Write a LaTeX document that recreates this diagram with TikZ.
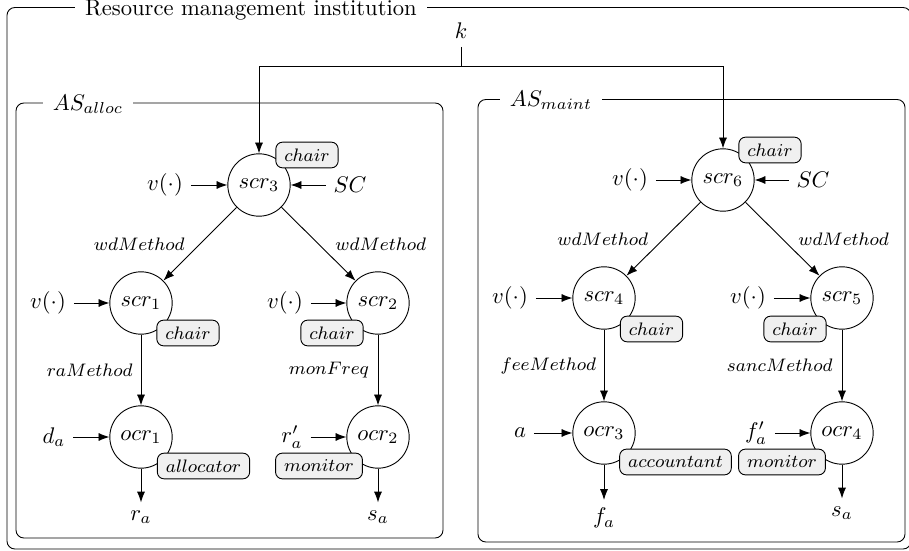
\documentclass[tikz,border=0pt]{standalone}
\usepackage{amsmath}
\usetikzlibrary{arrows.meta, positioning}

\begin{document}
\begin{tikzpicture}[x=0.01555cm,y=-0.01555cm,
        cr/.style={draw,circle,minimum size=0.97cm,inner sep=0pt},
        role/.style={draw,rounded corners=3pt,fill=gray!12,font=\fontsize{8.5}{10}\selectfont,inner xsep=3.75pt,inner ysep=0pt,minimum height=0.4cm},
        lbl/.style={font=\fontsize{8.5}{10}\selectfont,inner sep=0pt},
        arr/.style={-Latex},
        box/.style={draw,rounded corners=3.5pt},
        ttl/.style={fill=white,inner xsep=4.5pt,inner ysep=1pt}]
            \useasboundingbox (0,0) rectangle (909,551);
            \draw[box] (7,7.5) rectangle (911,549);
            \node[ttl] (rmi) at (251,10.5) {Resource management institution};
            \draw[box] (16,103) rectangle (443,538);
            \node[ttl] (asa) at (88,104) {$AS_{alloc}$};
            \draw[box] (478,99.5) rectangle (905,542);
            \node[ttl] (asm) at (551,100.5) {$AS_{maint}$};

            \node (k) at (461,31) {$k$};
            \coordinate (kj) at (461,66);

            \node[cr] (scr3) at (259,185) {$scr_3$};
            \node[cr] (scr1) at (141,303) {$scr_1$};
            \node[cr] (scr2) at (378,303) {$scr_2$};
            \node[cr] (ocr1) at (141,437) {$ocr_1$};
            \node[cr] (ocr2) at (378,437) {$ocr_2$};
            \node[cr] (scr6) at (723,180) {$scr_6$};
            \node[cr] (scr4) at (604,298) {$scr_4$};
            \node[cr] (scr5) at (842,298) {$scr_5$};
            \node[cr] (ocr3) at (604,433) {$ocr_3$};
            \node[cr] (ocr4) at (842,433) {$ocr_4$};

            \node (v3) at (165,185) {$v(\cdot)$};
            \node (sc3) at (350,185) {$SC$};
            \node (v1) at (48,303) {$v(\cdot)$};
            \node (v2) at (285,303) {$v(\cdot)$};
            \node (da) at (54,437) {$d_a$};
            \node (rpa) at (292,437) {$r'_a$};
            \node (ra) at (141,517) {$r_a$};
            \node (sa) at (378,517) {$s_a$};
            \node (v6) at (630,180) {$v(\cdot)$};
            \node (sc6) at (813,180) {$SC$};
            \node (v4) at (510,298) {$v(\cdot)$};
            \node (v5) at (748,298) {$v(\cdot)$};
            \node (a) at (520,433) {$a$};
            \node (fpa) at (756,433) {$f'_a$};
            \node (fa) at (604,518) {$f_a$};
            \node (sb) at (842,513) {$s_a$};

            \draw (k) -- (kj);
            \draw[arr] (kj) -| (scr3);
            \draw[arr] (kj) -| (scr6);

            \draw[arr] (v3) -- (scr3);
            \draw[arr] (sc3) -- (scr3);
            \draw[arr] (v1) -- (scr1);
            \draw[arr] (v2) -- (scr2);
            \draw[arr] (da) -- (ocr1);
            \draw[arr] (rpa) -- (ocr2);
            \draw[arr] (ocr1) -- (ra);
            \draw[arr] (ocr2) -- (sa);
            \draw[arr] (v6) -- (scr6);
            \draw[arr] (sc6) -- (scr6);
            \draw[arr] (v4) -- (scr4);
            \draw[arr] (v5) -- (scr5);
            \draw[arr] (a) -- (ocr3);
            \draw[arr] (fpa) -- (ocr4);
            \draw[arr] (ocr3) -- (fa);
            \draw[arr] (ocr4) -- (sb);

            \draw[arr] (scr3) -- node[lbl,left=6.6pt] {$wdMethod$} (scr1);
            \draw[arr] (scr3) -- node[lbl,right=7.3pt] {$wdMethod$} (scr2);
            \draw[arr] (scr1) -- node[lbl,left=3.5pt] {$raMethod$} (ocr1);
            \draw[arr] (scr2) -- node[lbl,left=3.8pt] {$monFreq$} (ocr2);
            \draw[arr] (scr6) -- node[lbl,left=6.6pt] {$wdMethod$} (scr4);
            \draw[arr] (scr6) -- node[lbl,right=6.8pt] {$wdMethod$} (scr5);
            \draw[arr] (scr4) -- node[lbl,left=3.3pt] {$feeMethod$} (ocr3);
            \draw[arr] (scr5) -- node[lbl,left=4pt] {$sancMethod$} (ocr4);

            \node[role] (r3) at (307,155) {$chair$};
            \node[role] (r1) at (188,333) {$chair$};
            \node[role] (r2) at (332,333) {$chair$};
            \node[role] (ro1) at (203.5,466) {$allocator$};
            \node[role] (ro2) at (319,466) {$monitor$};
            \node[role] (r6) at (770,150) {$chair$};
            \node[role] (r4) at (651.5,329) {$chair$};
            \node[role] (r5) at (795,329) {$chair$};
            \node[role] (ro3) at (675.5,462) {$accountant$};
            \node[role] (ro4) at (782,462) {$monitor$};
        \end{tikzpicture}
\end{document}
